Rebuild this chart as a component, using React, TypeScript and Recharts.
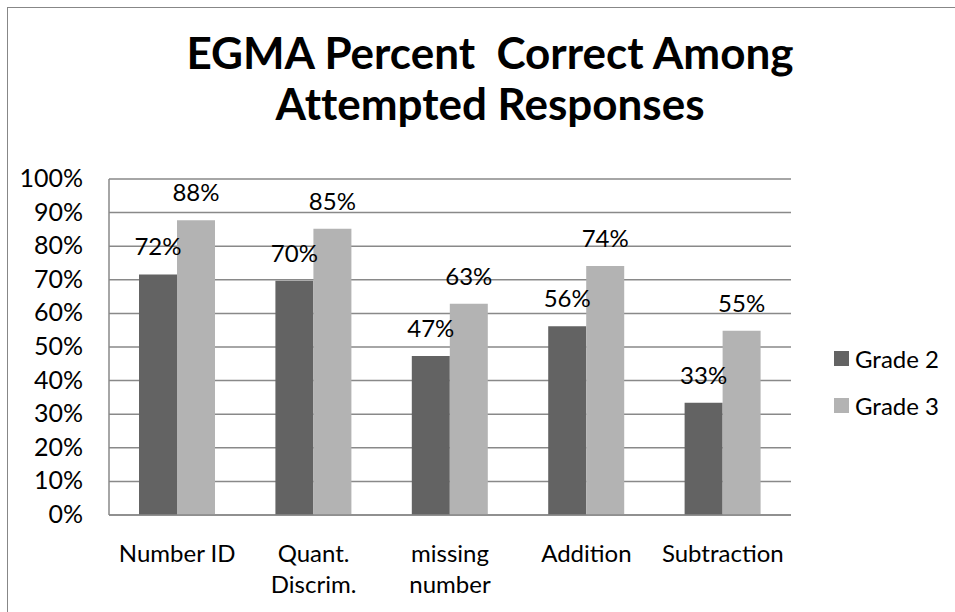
import React from 'react';
import { BarChart, Bar, XAxis, YAxis, CartesianGrid, LabelList } from 'recharts';

const categories = ['Number ID', 'Quant.\nDiscrim.', 'missing\nnumber', 'Addition', 'Subtraction'];
const grade2 = [71.6, 69.7, 47.3, 56.2, 33.4];
const grade3 = [87.7, 85.2, 62.9, 74.1, 54.8];
const yTicks = [0, 10, 20, 30, 40, 50, 60, 70, 80, 90, 100];
const seriesNames = ['Grade 2', 'Grade 3'];

const data = categories.map((name, i) => ({ name, g2: grade2[i], g3: grade3[i] }));

const FONT = 'Lato, "Open Sans", sans-serif';
const GRID = '#898989';
const DARK = '#636363';
const LIGHT = '#b3b3b3';
const COLORS = [DARK, LIGHT];

const YTick = (props: any) => {
  const { y, payload } = props;
  return (
    <text x={83} y={y} dy={8} textAnchor="end" fontSize={25} fontFamily={FONT} fill="#000">
      {payload.value}%
    </text>
  );
};

const XTick = (props: any) => {
  const { x, y, payload } = props;
  const lines = String(payload.value).split('\n');
  return (
    <g>
      {lines.map((l, i) => (
        <text key={i} x={x} y={y + 39 + i * 31} textAnchor="middle" fontSize={24} fontFamily={FONT} fill="#000">
          {l}
        </text>
      ))}
    </g>
  );
};

const BarLabel = (props: any) => {
  const { x, y, width, value } = props;
  return (
    <text x={x + width / 2} y={y - 19} textAnchor="middle" fontSize={24} fontFamily={FONT} fill="#000">
      {Math.round(value)}%
    </text>
  );
};

export default function App() {
  return (
    <div style={{ position: 'absolute', left: 0, top: 0, width: 955, height: 612, overflow: 'hidden', background: '#fff' }}>
      <div
        style={{
          position: 'absolute', left: 7, top: 7, width: 990, height: 640,
          border: '1.5px solid #878787', boxSizing: 'border-box',
        }}
      />
      <div
        style={{
          position: 'absolute', left: 0, width: 980, top: 27, textAlign: 'center',
          fontFamily: FONT, fontWeight: 700, fontSize: 44, lineHeight: '51px', color: '#000',
          fontVariantLigatures: 'none',
        }}
      >
        EGMA Percent&nbsp; Correct Among
        <br />
        Attempted Responses
      </div>
      <div style={{ position: 'absolute', left: 0, top: 0 }}>
        <BarChart
          width={955}
          height={612}
          data={data}
          margin={{ top: 179, right: 164, bottom: 0, left: 0 }}
          barCategoryGap="22%"
          barGap={0}
        >
          <CartesianGrid vertical={false} stroke={GRID} strokeWidth={1.5} />
          <XAxis
            dataKey="name"
            height={97}
            axisLine={{ stroke: GRID, strokeWidth: 1.5 }}
            tickLine={false}
            tick={<XTick />}
            interval={0}
          />
          <YAxis
            width={109}
            domain={[0, 100]}
            ticks={yTicks}
            axisLine={{ stroke: GRID, strokeWidth: 1.5 }}
            tickLine={false}
            tick={<YTick />}
          />
          <Bar dataKey="g2" name="Grade 2" fill={DARK} isAnimationActive={false}>
            <LabelList dataKey="g2" content={<BarLabel />} />
          </Bar>
          <Bar dataKey="g3" name="Grade 3" fill={LIGHT} isAnimationActive={false}>
            <LabelList dataKey="g3" content={<BarLabel />} />
          </Bar>
        </BarChart>
      </div>
      <div style={{ position: 'absolute', left: 834, top: 335, fontFamily: FONT, fontSize: 24, color: '#000' }}>
        {seriesNames.map((label, i) => (
          <div key={label} style={{ display: 'flex', alignItems: 'center', height: 47 }}>
            <span style={{ width: 15, height: 15, background: COLORS[i], display: 'inline-block', marginRight: 6 }} />
            <span>{label}</span>
          </div>
        ))}
      </div>
    </div>
  );
}
